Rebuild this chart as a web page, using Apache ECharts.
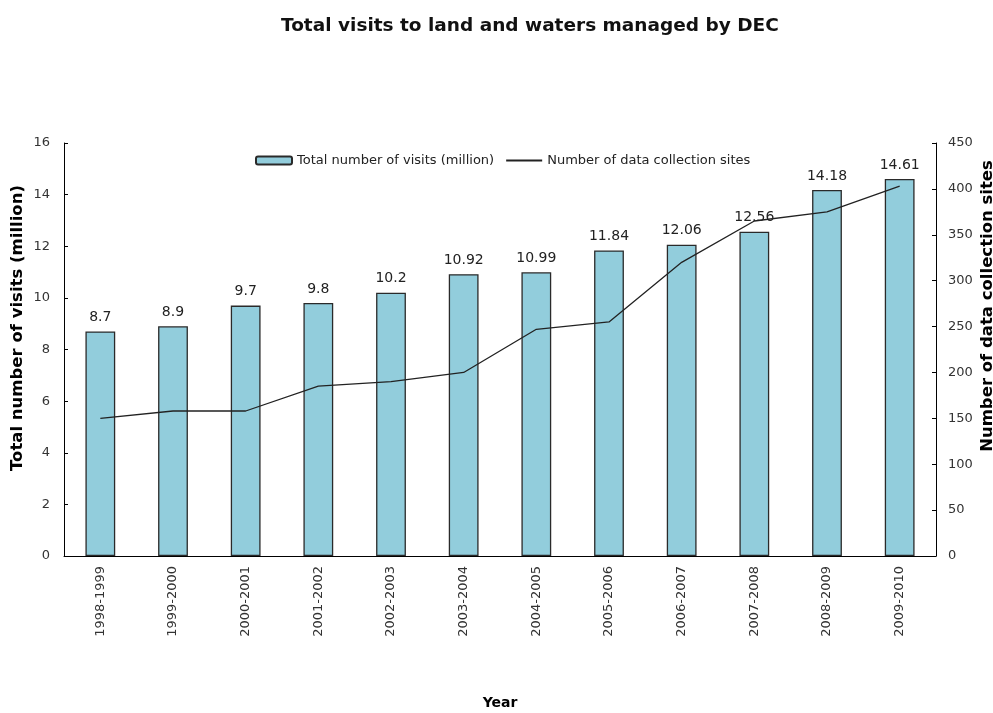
<!DOCTYPE html>
<html><head><meta charset="utf-8">
<script src="https://cdn.jsdelivr.net/npm/echarts@6/dist/echarts.min.js"></script>
<style>html,body{margin:0;padding:0;background:#fff}#c{width:993px;height:713px}</style>
</head><body><div id="c"></div>
<script>
const categories = ['1998-1999','1999-2000','2000-2001','2001-2002','2002-2003','2003-2004','2004-2005','2005-2006','2006-2007','2007-2008','2008-2009','2009-2010'];
const visits = [8.7, 8.9, 9.7, 9.8, 10.2, 10.92, 10.99, 11.84, 12.06, 12.56, 14.18, 14.61];
const sites = [150, 158, 158, 185, 190, 200, 247, 255, 320, 365, 375, 403];
const leftTicks = [0, 16, 2];
const rightTicks = [0, 450, 50];
const leftName = 'Total number of visits (million)';
const rightName = 'Number of data collection sites';

const font = 'DejaVu Sans';
const chart = echarts.init(document.getElementById('c'));
chart.setOption({
  animation: false,
  title: { text: 'Total visits to land and waters managed by DEC', left: 276, top: 12,
    textStyle: { fontFamily: font, fontSize: 18.5, fontWeight: 'bold', color: '#111' } },
  legend: { top: 149, left: 250, itemGap: 12, itemWidth: 36, itemHeight: 8,
    textStyle: { fontFamily: font, fontSize: 13, color: '#222' },
    data: [{ name: leftName }, { name: rightName, icon: 'path://M0,0 L1,0 L1,0.05 L0,0.05 Z' }] },
  grid: { left: 64, right: 57, top: 143, bottom: 157, outerBoundsMode: 'none', containLabel: false },
  graphic: [
    { type: 'text', x: 18, y: 328, rotation: Math.PI / 2,
      style: { text: leftName, fontFamily: font, fontSize: 16.5, fontWeight: 'bold', fill: '#000', align: 'center', verticalAlign: 'middle' } },
    { type: 'text', x: 988, y: 306, rotation: Math.PI / 2,
      style: { text: rightName, fontFamily: font, fontSize: 16.5, fontWeight: 'bold', fill: '#000', align: 'center', verticalAlign: 'middle' } }
  ],
  xAxis: { type: 'category', data: categories, boundaryGap: true,
    name: 'Year', nameLocation: 'middle', nameGap: 140,
    nameTextStyle: { fontFamily: font, fontSize: 14, fontWeight: 'bold', color: '#000' },
    axisLine: { lineStyle: { color: '#000', width: 1 } },
    axisTick: { inside: true, length: 4, lineStyle: { color: '#000' } },
    axisLabel: { rotate: 90, interval: 0, fontFamily: font, fontSize: 13, color: '#333', margin: 10 } },
  yAxis: [
    { type: 'value', min: leftTicks[0], max: leftTicks[1], interval: leftTicks[2],
      axisLine: { show: true, lineStyle: { color: '#000' } },
      axisTick: { show: true, inside: true, length: 4, lineStyle: { color: '#000' } },
      axisLabel: { fontFamily: font, fontSize: 13, color: '#333', margin: 14 },
      splitLine: { show: false } },
    { type: 'value', min: rightTicks[0], max: rightTicks[1], interval: rightTicks[2],
      axisLine: { show: true, lineStyle: { color: '#000' } },
      axisTick: { show: true, inside: true, length: 4, lineStyle: { color: '#000' } },
      axisLabel: { fontFamily: font, fontSize: 13, color: '#333', margin: 12 },
      splitLine: { show: false } }
  ],
  series: [
    { name: leftName, type: 'bar', data: visits, barWidth: '41%',
      itemStyle: { color: '#92CDDC', borderColor: '#2a2a2a', borderWidth: 1.3 },
      label: { show: true, position: 'top', distance: 7, fontFamily: font, fontSize: 14, color: '#222' } },
    { name: rightName, type: 'line', yAxisIndex: 1, data: sites,
      symbol: 'none', lineStyle: { color: '#222', width: 1.3 }, itemStyle: { color: '#222' } }
  ]
});
</script></body></html>
